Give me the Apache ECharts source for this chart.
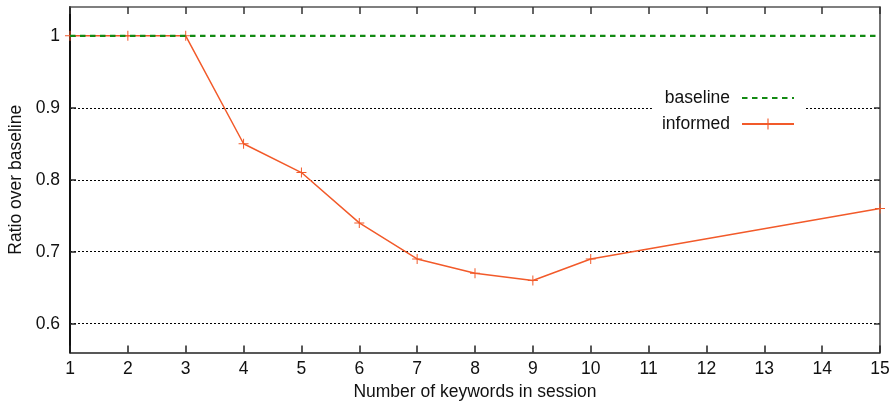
<!DOCTYPE html>
<html>
<head>
<meta charset="utf-8">
<script src="https://cdn.jsdelivr.net/npm/echarts@6/dist/echarts.min.js"></script>
<style>html,body{margin:0;padding:0;background:#fff;}#c{width:891px;height:402px;}</style>
</head>
<body>
<div id="c"></div>
<script>
var xValues = [1, 2, 3, 4, 5, 6, 7, 8, 9, 10, 15];
var informed = [1, 1, 1, 0.85, 0.81, 0.74, 0.69, 0.67, 0.66, 0.69, 0.76];
var baselineX = [1, 2, 3, 4, 5, 6, 7, 8, 9, 10, 11, 12, 13, 14, 15];
var baseline = [1, 1, 1, 1, 1, 1, 1, 1, 1, 1, 1, 1, 1, 1, 1];
var yTicks = [0.6, 0.7, 0.8, 0.9, 1];
var yGridLines = [0.6, 0.7, 0.8, 0.9];

var FONT = 'Liberation Sans';
var FS = 17.5;
var ORANGE = '#f25a2a';
var GREEN = '#128a12';
var plus = 'path://M-0.1,-1L0.1,-1L0.1,-0.1L1,-0.1L1,0.1L0.1,0.1L0.1,1L-0.1,1L-0.1,0.1L-1,0.1L-1,-0.1L-0.1,-0.1Z';

var chart = echarts.init(document.getElementById('c'), null, {renderer: 'canvas'});
chart.setOption({
  animation: false,
  backgroundColor: '#fff',
  grid: {left: 70, right: 11, top: 7, bottom: 49.5, containLabel: false, outerBoundsMode: 'none'},
  legend: {
    orient: 'vertical',
    align: 'right',
    right: 86,
    top: 82,
    padding: [7, 10, 7, 10],
    backgroundColor: '#fff',
    itemWidth: 52,
    itemHeight: 14,
    itemGap: 8,
    textStyle: {fontFamily: FONT, fontSize: FS, color: '#111', width: 72, align: 'right', padding: [0, 7, 0, 0]},
    data: [{name: 'baseline', itemStyle: {opacity: 0}}, {name: 'informed'}]
  },
  xAxis: [{
    type: 'value', min: 1, max: 15, interval: 1,
    name: 'Number of keywords in session', nameLocation: 'middle', nameGap: 31,
    nameTextStyle: {fontFamily: FONT, fontSize: FS, color: '#111'},
    axisLine: {show: true, lineStyle: {color: '#222', width: 1.5}},
    axisTick: {show: true, inside: true, length: 7, lineStyle: {color: '#222', width: 1.5}},
    axisLabel: {fontFamily: FONT, fontSize: FS, color: '#111', margin: 8},
    splitLine: {show: false}
  }, {
    type: 'value', min: 1, max: 15, interval: 1, position: 'top',
    axisLine: {show: true, lineStyle: {color: '#555', width: 1.5}},
    axisTick: {show: true, inside: true, length: 7, lineStyle: {color: '#333', width: 1.5}},
    axisLabel: {show: false},
    splitLine: {show: false}
  }],
  yAxis: [{
    type: 'value', min: 0.56, max: 1.04,
    name: 'Ratio over baseline', nameLocation: 'middle', nameGap: 36,
    nameTextStyle: {fontFamily: FONT, fontSize: FS, color: '#111'},
    axisLine: {show: true, lineStyle: {color: '#111', width: 2}},
    axisTick: {show: true, inside: true, length: 6, customValues: yTicks, lineStyle: {color: '#222', width: 1.5}},
    axisLabel: {fontFamily: FONT, fontSize: FS, color: '#111', margin: 10, customValues: yTicks},
    splitLine: {show: false}
  }, {
    type: 'value', min: 0.56, max: 1.04, position: 'right',
    axisLine: {show: true, lineStyle: {color: '#444', width: 1.5}},
    axisTick: {show: true, inside: true, length: 6, customValues: yGridLines, lineStyle: {color: '#333', width: 1.5}},
    axisLabel: {show: false},
    splitLine: {show: true, lineStyle: {color: '#000', width: 1, type: [2, 2]}}
  }],
  series: [{
    name: 'informed', type: 'line', xAxisIndex: 0, yAxisIndex: 0, z: 3,
    data: xValues.map(function (x, i) { return [x, informed[i]]; }),
    symbol: plus, symbolSize: 10, showSymbol: true,
    itemStyle: {color: ORANGE},
    lineStyle: {color: ORANGE, width: 1.5}
  }, {
    name: 'baseline', type: 'line', xAxisIndex: 0, yAxisIndex: 0, z: 4,
    data: baselineX.map(function (x, i) { return [x, baseline[i]]; }),
    symbol: 'circle', showSymbol: false,
    itemStyle: {color: GREEN},
    lineStyle: {color: GREEN, width: 2.2, type: [5.5, 4.5]}
  }]
});
</script>
</body>
</html>
